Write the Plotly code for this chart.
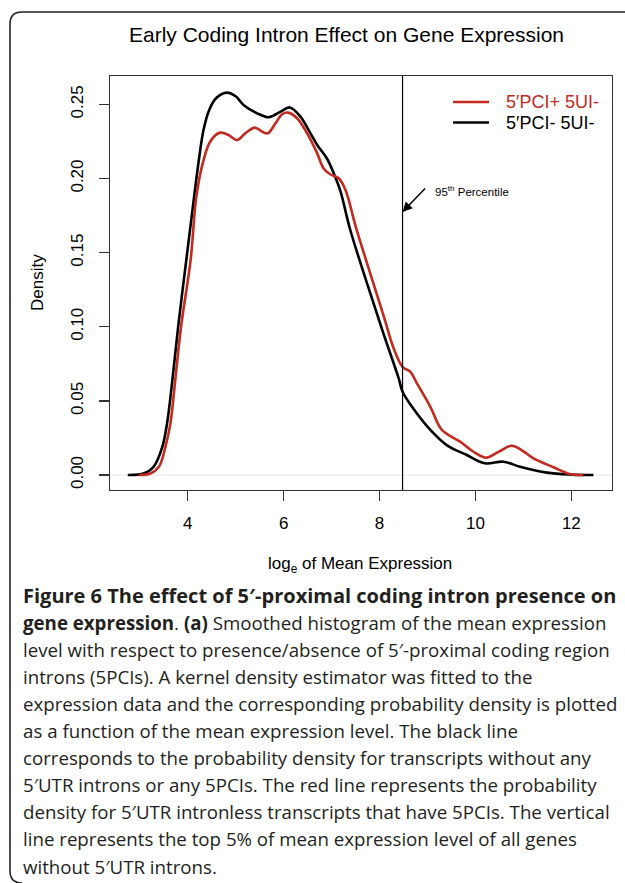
import plotly.graph_objects as go

# ---- data ----
black_x = [2.75, 3.08, 3.29, 3.47, 3.57, 3.68, 3.80, 3.97, 4.125, 4.23, 4.33, 4.45, 4.60, 4.82, 5.00, 5.17,
           5.45, 5.69, 5.93, 6.13, 6.35, 6.56, 6.70, 6.90, 7.04, 7.18, 7.39, 7.74, 8.08, 8.40, 8.48, 8.70,
           9.06, 9.40, 9.82, 10.20, 10.58, 10.93, 11.49, 12.00, 12.46]
black_y = [0, 0.001, 0.0056, 0.019, 0.035, 0.064, 0.10, 0.145, 0.1856, 0.212, 0.233, 0.2465, 0.2545, 0.258,
           0.2555, 0.2495, 0.244, 0.2414, 0.245, 0.248, 0.2418, 0.2305, 0.2227, 0.2137, 0.204, 0.192, 0.1653,
           0.1293, 0.0956, 0.0652, 0.0562, 0.045, 0.0304, 0.0202, 0.0135, 0.0079, 0.009, 0.0056, 0.0016,
           0.0003, 0]

red_x = [2.98, 3.22, 3.40, 3.535, 3.64, 3.74, 3.86, 4.06, 4.18, 4.33, 4.47, 4.67, 4.85, 5.03, 5.20, 5.40,
         5.55, 5.67, 5.83, 5.97, 6.09, 6.28, 6.49, 6.70, 6.83, 6.97, 7.15, 7.29, 7.50, 7.74, 8.09, 8.30,
         8.48, 8.64, 8.78, 9.06, 9.30, 9.68, 9.96, 10.22, 10.50, 10.76, 11.00, 11.21, 11.63, 11.97, 12.25]
red_y = [0, 0.001, 0.0056, 0.019, 0.035, 0.064, 0.10, 0.145, 0.188, 0.2125, 0.225, 0.231, 0.2294, 0.226,
         0.2305, 0.2344, 0.2317, 0.2305, 0.2373, 0.2434, 0.2445, 0.2407, 0.2305, 0.217, 0.207, 0.2029,
         0.2002, 0.1923, 0.168, 0.1428, 0.1068, 0.085, 0.073, 0.0697, 0.0619, 0.046, 0.0304, 0.0225,
         0.0157, 0.0117, 0.016, 0.0198, 0.016, 0.0112, 0.0052, 0.0007, 0]

series_names = ["5\u2032PCI+ 5UI-", "5\u2032PCI- 5UI-"]
series_colors = ["#c22a1f", "#000000"]
x_ticks = [4, 6, 8, 10, 12]
y_ticks = [0.00, 0.05, 0.10, 0.15, 0.20, 0.25]
y_tick_labels = ["0.00", "0.05", "0.10", "0.15", "0.20", "0.25"]
percentile_95 = 8.48
title_text = "Early Coding Intron Effect on Gene Expression"
caption_lines = [
    "<b>Figure 6 The effect of 5\u2032-proximal coding intron presence on</b>",
    "<b>gene expression</b>. <b>(a)</b> Smoothed histogram of the mean expression",
    "level with respect to presence/absence of 5\u2032-proximal coding region",
    "introns (5PCIs). A kernel density estimator was fitted to the",
    "expression data and the corresponding probability density is plotted",
    "as a function of the mean expression level. The black line",
    "corresponds to the probability density for transcripts without any",
    "5\u2032UTR introns or any 5PCIs. The red line represents the probability",
    "density for 5\u2032UTR intronless transcripts that have 5PCIs. The vertical",
    "line represents the top 5% of mean expression level of all genes",
    "without 5\u2032UTR introns.",
]

# ---- layout geometry ----
W, H = 625, 883
ML, MR, MT, MB = 110, 13, 76, 393
PW, PH = W - ML - MR, H - MT - MB


def px(x):
    return (x - ML) / PW


def py(y):
    return 1 - (y - MT) / PH


FONT = "Liberation Sans, Arial, Helvetica, sans-serif"

fig = go.Figure()
fig.add_trace(go.Scatter(x=black_x, y=black_y, mode="lines", name=series_names[1],
                         line=dict(color=series_colors[1], width=2.6, shape="spline", smoothing=1.0),
                         showlegend=False, hoverinfo="skip"))
fig.add_trace(go.Scatter(x=red_x, y=red_y, mode="lines", name=series_names[0],
                         line=dict(color=series_colors[0], width=2.6, shape="spline", smoothing=1.0),
                         showlegend=False, hoverinfo="skip"))

shapes = []
# zero line
shapes.append(dict(type="line", xref="paper", yref="y", x0=0, x1=1, y0=0, y1=0,
                   line=dict(color="#e6e6e6", width=1), layer="below"))
# 95th percentile line
shapes.append(dict(type="line", xref="x", yref="paper", x0=percentile_95, x1=percentile_95, y0=0, y1=1,
                   line=dict(color="#000000", width=1.2)))
# manual legend lines
leg_rows = [102, 122.5]
for c, yy in zip(series_colors, leg_rows):
    shapes.append(dict(type="line", xref="paper", yref="paper", x0=px(453), x1=px(489),
                       y0=py(yy), y1=py(yy), line=dict(color=c, width=2.6)))
# outer rounded frame
frame = (f"M {px(626)},{py(12)} L {px(22)},{py(12)} Q {px(10)},{py(12)} {px(10)},{py(24)} "
         f"L {px(10)},{py(871)} Q {px(10)},{py(883)} {px(22)},{py(883)}")
shapes.append(dict(type="path", xref="paper", yref="paper", path=frame,
                   line=dict(color="#222222", width=1.6)))

annotations = []
# title
annotations.append(dict(xref="paper", yref="paper", x=px(346), y=py(34), text=title_text,
                        showarrow=False, xanchor="center", yanchor="middle",
                        font=dict(family=FONT, size=21, color="#000")))
# axis titles
annotations.append(dict(xref="paper", yref="paper", x=px(360), y=py(565),
                        text="log<sub>e</sub> of Mean Expression", showarrow=False,
                        xanchor="center", yanchor="middle", font=dict(family=FONT, size=17, color="#000")))
annotations.append(dict(xref="paper", yref="paper", x=px(37), y=py(283), text="Density", textangle=-90,
                        showarrow=False, xanchor="center", yanchor="middle",
                        font=dict(family=FONT, size=17, color="#000")))
# legend texts
for name, c, yy in zip(series_names, series_colors, leg_rows):
    annotations.append(dict(xref="paper", yref="paper", x=px(504), y=py(yy), text=name, showarrow=False,
                            xanchor="left", yanchor="middle", font=dict(family=FONT, size=18, color=c)))
# arrow + label
annotations.append(dict(xref="x", yref="y", x=percentile_95, y=0.1775, text="", showarrow=True,
                        arrowhead=2, arrowsize=1.3, arrowwidth=1.5, arrowcolor="#000", ax=24, ay=-25,
                        standoff=0))
annotations.append(dict(xref="paper", yref="paper", x=px(433), y=py(191), text="95<sup>th</sup> Percentile",
                        showarrow=False, xanchor="left", yanchor="middle",
                        font=dict(family=FONT, size=11.5, color="#000")))
# caption
for i, line in enumerate(caption_lines):
    size = 20 if i == 0 else 18.7
    annotations.append(dict(xref="paper", yref="paper", x=px(21), y=py(595 + 27.1 * i), text=line,
                            showarrow=False, xanchor="left", yanchor="middle",
                            font=dict(family="Open Sans, sans-serif", size=size, color="#231f20")))

fig.update_layout(
    width=W, height=H, margin=dict(l=ML, r=MR, t=MT, b=MB, pad=0),
    paper_bgcolor="white", plot_bgcolor="white", showlegend=False, hovermode=False,
    shapes=shapes, annotations=annotations,
    font=dict(family=FONT, size=17, color="#000"),
    xaxis=dict(range=[2.379, 12.848], tickvals=x_ticks, ticktext=[str(v) for v in x_ticks],
               showgrid=False, zeroline=False, showline=True, mirror=True, linecolor="#333",
               linewidth=1.3, ticks="outside", ticklen=10, tickwidth=1.2, tickcolor="#333",
               tickfont=dict(family=FONT, size=17, color="#000"), ticklabelstandoff=7),
    yaxis=dict(range=[-0.0101, 0.2692], tickvals=y_ticks, ticktext=y_tick_labels, tickangle=-90,
               showgrid=False, zeroline=False, showline=True, mirror=True, linecolor="#333",
               linewidth=1.3, ticks="outside", ticklen=10, tickwidth=1.2, tickcolor="#333",
               tickfont=dict(family=FONT, size=17, color="#000"), ticklabelstandoff=9),
)

fig.write_html("out.html", config={"displayModeBar": False, "staticPlot": True},
               post_script="document.body.style.margin='0px';")
